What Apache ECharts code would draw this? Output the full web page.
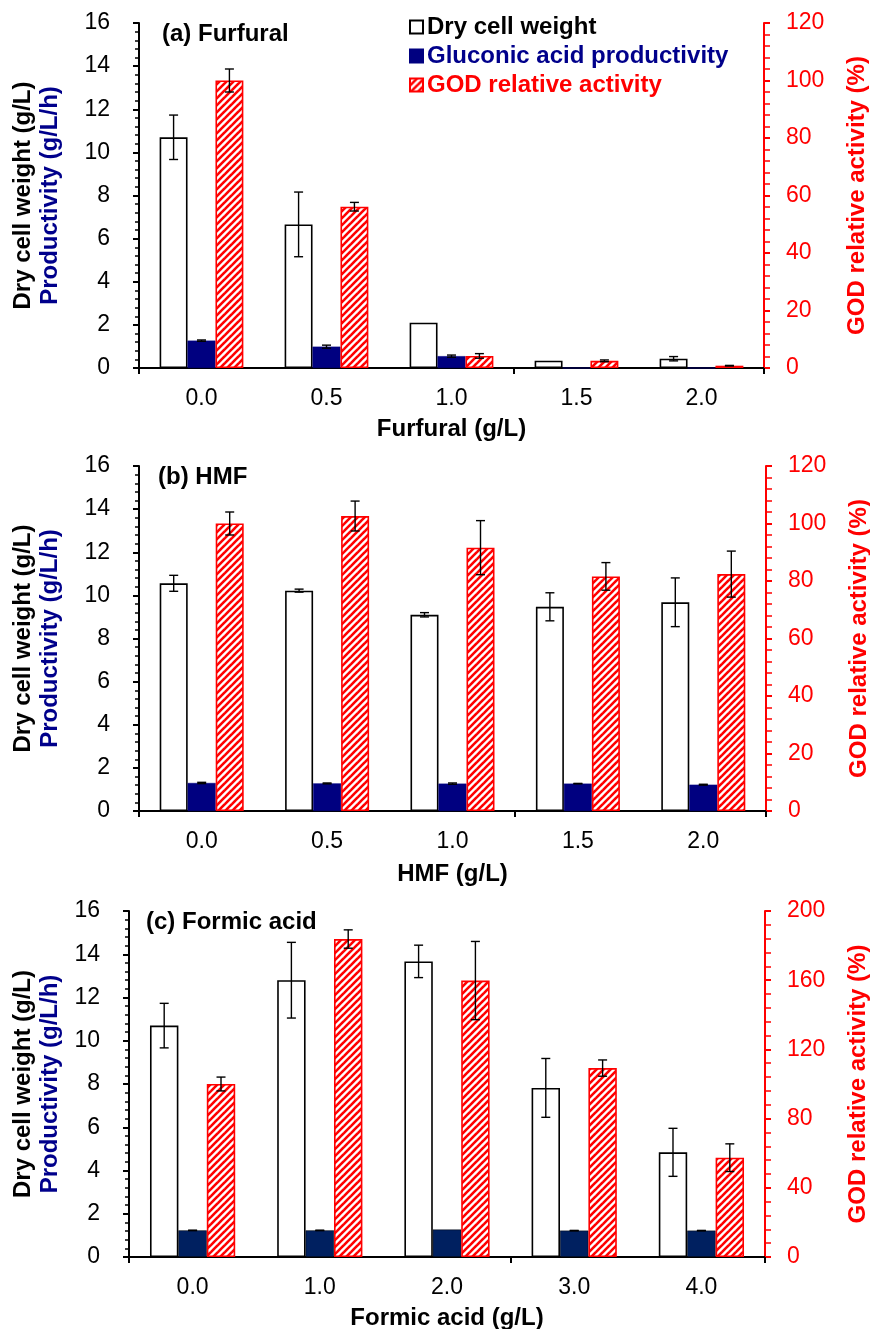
<!DOCTYPE html>
<html>
<head>
<meta charset="utf-8">
<script src="https://cdn.jsdelivr.net/npm/echarts@6/dist/echarts.min.js"></script>
<style>
  html, body { margin: 0; padding: 0; background: #fff; }
  #chart { width: 870px; height: 1329px; }
</style>
</head>
<body>
<div id="chart"></div>
<script>
// ---- Data -------------------------------------------------------------
// (a) Furfural
const catsA = ['0.0', '0.5', '1.0', '1.5', '2.0'];
const dcwA = [10.70, 6.66, 2.10, 0.34, 0.43];
const dcwErrA = [1.03, 1.50, 0, 0, 0.10];
const prodA = [1.27, 0.99, 0.55, 0, 0];
const prodErrA = [0.03, 0.07, 0.05, 0, 0];
const godA = [100, 56.1, 4.2, 2.5, 0.8];
const godErrA = [4.0, 1.5, 0.8, 0.3, 0.1];

// (b) HMF
const catsB = ['0.0', '0.5', '1.0', '1.5', '2.0'];
const dcwB = [10.56, 10.22, 9.10, 9.47, 9.68];
const dcwErrB = [0.37, 0.07, 0.10, 0.65, 1.13];
const prodB = [1.30, 1.28, 1.27, 1.27, 1.22];
const prodErrB = [0.03, 0.02, 0.03, 0.01, 0.02];
const godB = [100, 102.6, 91.6, 81.6, 82.4];
const godErrB = [4.0, 5.2, 9.4, 4.8, 8.0];

// (c) Formic acid
const catsC = ['0.0', '1.0', '2.0', '3.0', '4.0'];
const dcwC = [10.70, 12.80, 13.67, 7.82, 4.84];
const dcwErrC = [1.03, 1.75, 0.75, 1.36, 1.11];
const prodC = [1.23, 1.23, 1.27, 1.22, 1.22];
const prodErrC = [0.01, 0.01, 0, 0.01, 0.01];
const godC = [100, 183.8, 159.8, 109.2, 57.4];
const godErrC = [4.0, 5.3, 22.6, 4.7, 8.0];

// ---- Styling ----------------------------------------------------------
const FONT = "'Liberation Sans', Arial, Helvetica, sans-serif";
const NAVY = '#000080';
const NAVY_C = '#002060';
const NAVY_TEXT = '#00008B';
const RED = '#FF0000';
const GAP = 0.33;

// red / white diagonal hatch
function makeHatch() {
  const s = 7;
  const c = document.createElement('canvas');
  c.width = s; c.height = s;
  const g = c.getContext('2d');
  g.fillStyle = '#fff';
  g.fillRect(0, 0, s, s);
  g.strokeStyle = RED;
  g.lineWidth = 2.6;
  for (const k of [0, s, 2 * s]) {
    g.beginPath();
    g.moveTo(k + 2, -2);
    g.lineTo(-2, k + 2);
    g.stroke();
  }
  return c;
}
const hatch = { image: makeHatch(), repeat: 'repeat' };

const gridBase = { containLabel: false, outerBoundsMode: 'none' };
const grids = [
  Object.assign({ left: 139, right: 106, top: 23, height: 345 }, gridBase),
  Object.assign({ left: 139, right: 104, top: 466, height: 345 }, gridBase),
  Object.assign({ left: 129, right: 105, top: 911, height: 346 }, gridBase)
];

function xAxisFor(i, cats, name, gap) {
  return {
    type: 'category', gridIndex: i, data: cats,
    name: name, nameLocation: 'middle', nameGap: gap,
    nameTextStyle: { fontFamily: FONT, fontSize: 24, fontWeight: 'bold', color: '#000' },
    axisLine: { lineStyle: { color: '#000', width: 2 } },
    axisTick: { show: true, length: 6, lineStyle: { color: '#000', width: 2 },
      interval: (idx) => idx === 0 || idx === 3 },
    axisLabel: { fontFamily: FONT, fontSize: 23, color: '#000', margin: 19 },
    splitLine: { show: false }
  };
}

function leftAxisFor(i, gap) {
  return {
    type: 'value', gridIndex: i, position: 'left', min: 0, max: 16, interval: 2,
    name: '{a|Dry cell weight (g/L)}\n{b|Productivity (g/L/h)}',
    nameLocation: 'middle', nameGap: gap,
    nameTextStyle: {
      rich: {
        a: { fontFamily: FONT, fontSize: 24, fontWeight: 'bold', color: '#000', lineHeight: 27, align: 'center' },
        b: { fontFamily: FONT, fontSize: 24, fontWeight: 'bold', color: NAVY_TEXT, lineHeight: 27, align: 'center' }
      }
    },
    axisLine: { show: true, lineStyle: { color: '#000', width: 2 } },
    axisTick: { show: true, length: 6, lineStyle: { color: '#000', width: 2 } },
    minorTick: { show: true, splitNumber: 5, length: 4, lineStyle: { color: '#000', width: 1.5 } },
    axisLabel: { fontFamily: FONT, fontSize: 23, color: '#000', margin: 29 },
    splitLine: { show: false }
  };
}

function rightAxisFor(i, max, interval) {
  return {
    type: 'value', gridIndex: i, position: 'right', min: 0, max: max, interval: interval,
    name: 'GOD relative activity (%)',
    nameLocation: 'middle', nameGap: 81,
    nameTextStyle: { fontFamily: FONT, fontSize: 24, fontWeight: 'bold', color: RED },
    axisLine: { show: true, lineStyle: { color: RED, width: 2 } },
    axisTick: { show: true, length: 6, lineStyle: { color: RED, width: 2 } },
    minorTick: { show: true, splitNumber: 5, length: 6, lineStyle: { color: RED, width: 1.5 } },
    axisLabel: { fontFamily: FONT, fontSize: 23, color: RED, margin: 22 },
    splitLine: { show: false }
  };
}

function barSeries(name, data, grid, yIdx, itemStyle) {
  return {
    name: name, type: 'bar', xAxisIndex: grid, yAxisIndex: yIdx, data: data,
    barGap: '0%', barCategoryGap: (GAP * 100) + '%',
    itemStyle: itemStyle, emphasis: { disabled: true }, animation: false
  };
}

// error bars centred on bar slot `pos` (0,1,2) of each category
function errorSeries(values, errs, pos, grid, yIdx) {
  return {
    type: 'custom', xAxisIndex: grid, yAxisIndex: yIdx, z: 10, silent: true, animation: false,
    data: values.map((v, i) => [i, v, errs[i]]),
    encode: { x: 0, y: 1 },
    renderItem(params, api) {
      const i = api.value(0), v = api.value(1), e = api.value(2);
      if (!e) return null;
      const band = api.size([1, 0])[0];
      const barW = band * (1 - GAP) / 3;
      const cx = api.coord([i, v])[0] + (pos - 1) * barW;
      const top = api.coord([i, v + e])[1];
      const bot = api.coord([i, Math.max(v - e, 0)])[1];
      const cap = 4.5;
      const st = { stroke: '#000', lineWidth: 1.4 };
      return {
        type: 'group', children: [
          { type: 'line', shape: { x1: cx, y1: top, x2: cx, y2: bot }, style: st },
          { type: 'line', shape: { x1: cx - cap, y1: top, x2: cx + cap, y2: top }, style: st },
          { type: 'line', shape: { x1: cx - cap, y1: bot, x2: cx + cap, y2: bot }, style: st }
        ]
      };
    }
  };
}

const whiteStyle = { color: '#fff', borderColor: '#000', borderWidth: 1.6 };
const redStyle = { color: hatch, borderColor: RED, borderWidth: 1.6 };
const navyStyle = { color: NAVY, borderColor: NAVY, borderWidth: 0.5 };
const navyStyleC = { color: NAVY_C, borderColor: '#000', borderWidth: 0.5 };

const panels = [
  { dcw: dcwA, dcwE: dcwErrA, prod: prodA, prodE: prodErrA, god: godA, godE: godErrA, navy: navyStyle },
  { dcw: dcwB, dcwE: dcwErrB, prod: prodB, prodE: prodErrB, god: godB, godE: godErrB, navy: navyStyle },
  { dcw: dcwC, dcwE: dcwErrC, prod: prodC, prodE: prodErrC, god: godC, godE: godErrC, navy: navyStyleC }
];

const series = [];
panels.forEach((p, g) => {
  const yl = g * 2, yr = g * 2 + 1;
  series.push(barSeries('Dry cell weight', p.dcw, g, yl, whiteStyle));
  series.push(barSeries('Gluconic acid productivity', p.prod, g, yl, p.navy));
  series.push(barSeries('GOD relative activity', p.god, g, yr, redStyle));
  series.push(errorSeries(p.dcw, p.dcwE, 0, g, yl));
  series.push(errorSeries(p.prod, p.prodE, 1, g, yl));
  series.push(errorSeries(p.god, p.godE, 2, g, yr));
});

const titleStyle = { fontFamily: FONT, fontSize: 24, fontWeight: 'bold', color: '#000' };

const option = {
  backgroundColor: '#fff',
  animation: false,
  title: [
    { text: '(a) Furfural', left: 162, top: 22, padding: 0, textStyle: titleStyle },
    { text: '(b) HMF', left: 158, top: 465, padding: 0, textStyle: titleStyle },
    { text: '(c) Formic acid', left: 146, top: 910, padding: 0, textStyle: titleStyle }
  ],
  legend: {
    orient: 'vertical', left: 409, top: 15, padding: 0,
    itemWidth: 13, itemHeight: 13, itemGap: 5,
    icon: 'rect',
    textStyle: { fontFamily: FONT, fontSize: 24, fontWeight: 'bold', padding: [0, 0, 0, -1] },
    selectedMode: false,
    data: [
      { name: 'Dry cell weight', textStyle: { color: '#000' } },
      { name: 'Gluconic acid productivity', textStyle: { color: NAVY_TEXT } },
      { name: 'GOD relative activity', textStyle: { color: RED } }
    ]
  },
  grid: grids,
  xAxis: [
    xAxisFor(0, catsA, 'Furfural (g/L)', 49),
    xAxisFor(1, catsB, 'HMF (g/L)', 51),
    xAxisFor(2, catsC, 'Formic acid (g/L)', 49)
  ],
  yAxis: [
    leftAxisFor(0, 75), rightAxisFor(0, 120, 20),
    leftAxisFor(1, 75), rightAxisFor(1, 120, 20),
    leftAxisFor(2, 65), rightAxisFor(2, 200, 40)
  ],
  series: series
};

const chart = echarts.init(document.getElementById('chart'), null, { renderer: 'canvas' });
chart.setOption(option);
</script>
</body>
</html>
